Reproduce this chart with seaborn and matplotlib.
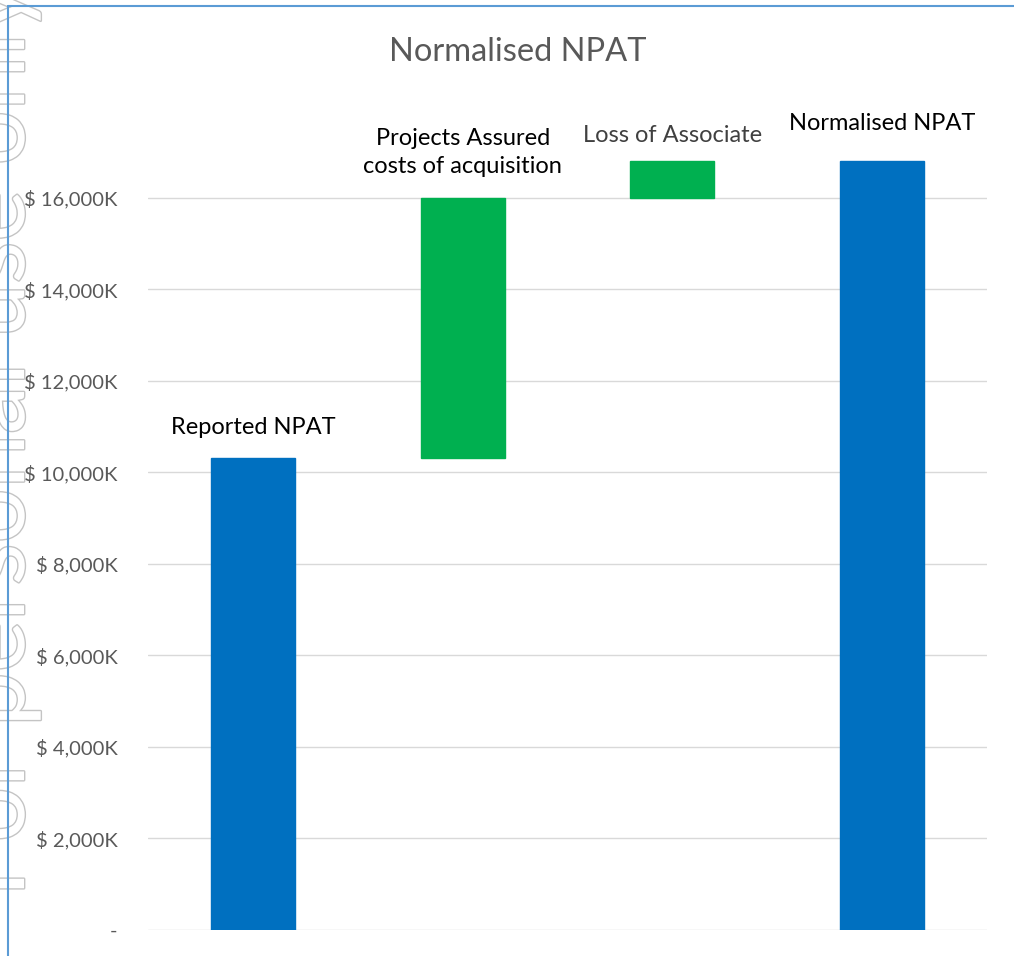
import matplotlib
matplotlib.use("Agg")
import matplotlib.pyplot as plt
import matplotlib.patheffects as pe
from matplotlib.lines import Line2D
from matplotlib.ticker import FuncFormatter
import seaborn as sns
import numpy as np

# waterfall data ($K)
categories = ["Reported NPAT", "Projects Assured\ncosts of acquisition", "Loss of Associate", "Normalised NPAT"]
heights = [10300, 5680, 820, 16800]
bottoms = [0, 10300, 15980, 0]
bar_colors = ["#0070C0", "#00B050", "#00B050", "#0070C0"]
label_colors = ["black", "black", "#404040", "black"]
label_offsets = [31, 46, 25, 37]   # pixels from bar top to label centre
yticks = [0, 2000, 4000, 6000, 8000, 10000, 12000, 14000, 16000]

sns.set_style("white")
plt.rcParams['font.family'] = ['Lato', 'DejaVu Sans']

fig = plt.figure(figsize=(10.14, 9.56), dpi=100)
ax = fig.add_axes([148/1014, 1-930/956, (987-148)/1014, (930-106)/956])

sns.barplot(x=categories, y=heights, bottom=bottoms, width=0.4, color=bar_colors[0], ax=ax, zorder=2)
for patch, c in zip(ax.patches, bar_colors):
    patch.set_facecolor(c)
    patch.set_edgecolor(c)

# labels above each bar
for i, (cat, h, b) in enumerate(zip(categories, heights, bottoms)):
    ax.annotate(cat, xy=(i, h + b), xytext=(0, label_offsets[i]), textcoords="offset pixels",
                ha="center", va="center", fontsize=17, color=label_colors[i], linespacing=1.45)

ax.set_xlim(-0.5, 3.5)
ax.set_ylim(0, 18000)
ax.set_yticks(yticks)
ax.yaxis.set_major_formatter(FuncFormatter(lambda v, p: "-" if v == 0 else f"$ {v:,.0f}K"))
ax.tick_params(axis="y", length=0, pad=22, labelsize=14.5, labelcolor="#595959")
ax.set_xticks([])
ax.set_xlabel("")
ax.set_ylabel("")
ax.grid(axis="y", color="#d9d9d9", linewidth=1, zorder=0)
ax.set_axisbelow(True)
for s in ax.spines.values():
    s.set_visible(False)

fig.text(518/1014, 1-52/956, "Normalised NPAT", ha="center", va="center", fontsize=23.5, color="#595959")

# faint watermark on left edge, mostly off the figure as in the source
fig.text(24/1014, 1-440/956, "For personal use only", rotation=90, rotation_mode="anchor",
         ha="center", va="baseline", fontsize=70, color="white",
         path_effects=[pe.withStroke(linewidth=2, foreground="#c4c4c4")], zorder=0)

# chart frame lines
fig.add_artist(Line2D([8/1014, 8/1014], [0, 1-6/956], color="#5B9BD5", linewidth=1.5))
fig.add_artist(Line2D([8/1014, 1], [1-6/956, 1-6/956], color="#5B9BD5", linewidth=1.5))

fig.savefig("out.png", dpi=100)
